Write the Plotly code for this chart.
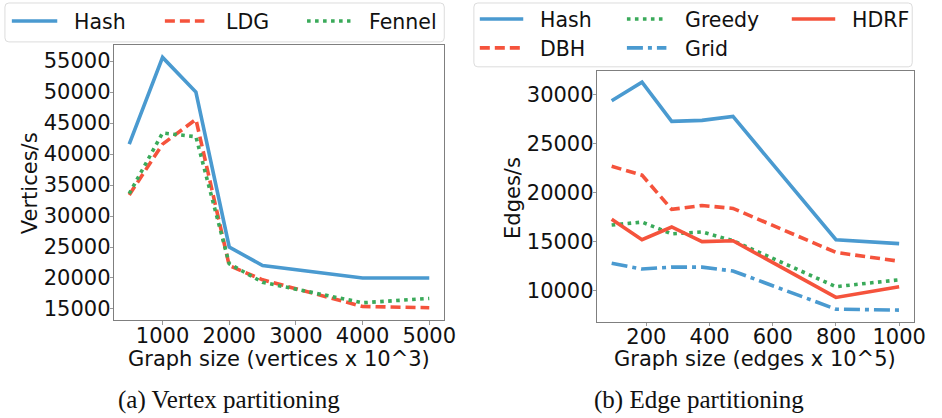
import plotly.graph_objects as go

# ---- data -------------------------------------------------------------
vertex_sizes = [500, 1000, 1500, 2000, 2500, 4000, 5000]
hash_v = [41600, 55600, 50000, 25000, 22000, 20000, 20000]
ldg_v = [33400, 41600, 45600, 22000, 19700, 15400, 15200]
fennel_v = [33600, 43400, 42800, 22300, 19300, 16000, 16700]

edge_sizes = [90, 186, 280, 376, 474, 800, 1000]
hash_e = [29400, 31300, 27300, 27400, 27800, 15200, 14800]
dbh_e = [22700, 21800, 18300, 18700, 18400, 13900, 13000]
greedy_e = [16700, 17000, 15800, 16000, 15100, 10400, 11100]
grid_e = [12800, 12200, 12400, 12400, 12000, 8100, 8000]
hdrf_e = [17300, 15200, 16500, 15000, 15100, 9300, 10400]

vertex_ticks = [1000, 2000, 3000, 4000, 5000]
vertex_yticks = [15000, 20000, 25000, 30000, 35000, 40000, 45000, 50000, 55000]
edge_ticks = [200, 400, 600, 800, 1000]
edge_yticks = [10000, 15000, 20000, 25000, 30000]

# ---- styling ----------------------------------------------------------
W, H = 942, 418
BLUE = "#4a9ad0"
RED = "#f5533c"
GREEN = "#3aaa5a"
LW = 3.6
DASH = "10px,5px"
DOT = "3.6px,4.4px"
DASHDOT = "16px,5px,4px,5px"
FONT = "DejaVu Sans"
TICK_SIZE = 21


def px(x):
    return x / W


def py(y):
    return 1 - y / H


def padded(values_list):
    lo = min(min(v) for v in values_list)
    hi = max(max(v) for v in values_list)
    pad = (hi - lo) * 0.05
    return [lo - pad, hi + pad]


fig = go.Figure()

left_series = [
    ("Hash", hash_v, BLUE, "solid"),
    ("LDG", ldg_v, RED, DASH),
    ("Fennel", fennel_v, GREEN, DOT),
]
right_series = [
    ("Hash", hash_e, BLUE, "solid"),
    ("DBH", dbh_e, RED, DASH),
    ("Greedy", greedy_e, GREEN, DOT),
    ("Grid", grid_e, BLUE, DASHDOT),
    ("HDRF", hdrf_e, RED, "solid"),
]

for name, vals, color, dash in left_series:
    fig.add_trace(go.Scatter(
        x=vertex_sizes, y=vals, name=name, mode="lines",
        line=dict(color=color, width=LW, dash=dash),
        xaxis="x", yaxis="y", showlegend=False,
    ))

for name, vals, color, dash in right_series:
    fig.add_trace(go.Scatter(
        x=edge_sizes, y=vals, name=name, mode="lines",
        line=dict(color=color, width=LW, dash=dash),
        xaxis="x2", yaxis="y2", showlegend=False,
    ))

axis_common = dict(
    showline=True, mirror=True, linecolor="#7f7f7f", linewidth=1,
    ticks="outside", ticklen=3.5, tickwidth=1, tickcolor="#9a9a9a",
    showgrid=False, zeroline=False, tickformat="d",
    tickfont=dict(family=FONT, size=TICK_SIZE, color="#111111"),
)

fig.update_layout(
    width=W, height=H,
    margin=dict(l=0, r=0, t=0, b=0),
    paper_bgcolor="white", plot_bgcolor="white",
    xaxis=dict(domain=[px(115.7), px(450)], anchor="y",
               range=[vertex_sizes[0] - (vertex_sizes[-1] - vertex_sizes[0]) * 0.05,
                      vertex_sizes[-1] + (vertex_sizes[-1] - vertex_sizes[0]) * 0.05],
               tickvals=vertex_ticks, ticklabelstandoff=-7, **axis_common),
    yaxis=dict(domain=[py(321), py(45)], anchor="x",
               range=padded([hash_v, ldg_v, fennel_v]),
               tickvals=vertex_yticks, ticklabelstandoff=-5, **axis_common),
    xaxis2=dict(domain=[px(605), px(925.3)], anchor="y2",
                range=[edge_sizes[0] - (edge_sizes[-1] - edge_sizes[0]) * 0.05,
                       edge_sizes[-1] + (edge_sizes[-1] - edge_sizes[0]) * 0.05],
                tickvals=edge_ticks, ticklabelstandoff=-7, **axis_common),
    yaxis2=dict(domain=[py(322.3), py(71)], anchor="x2",
                range=padded([hash_e, dbh_e, greedy_e, grid_e, hdrf_e]),
                tickvals=edge_yticks, ticklabelstandoff=-5, **axis_common),
    showlegend=False,
)

shapes = []
annotations = []


def rounded_box(x0, y0, x1, y1, r=4):
    rx, ry = r / W, r / H
    X0, X1 = px(x0), px(x1)
    Y0, Y1 = py(y0), py(y1)  # Y0 is the top edge in paper space
    path = (
        f"M {X0 + rx},{Y0} L {X1 - rx},{Y0} Q {X1},{Y0} {X1},{Y0 - ry} "
        f"L {X1},{Y1 + ry} Q {X1},{Y1} {X1 - rx},{Y1} "
        f"L {X0 + rx},{Y1} Q {X0},{Y1} {X0},{Y1 + ry} "
        f"L {X0},{Y0 - ry} Q {X0},{Y0} {X0 + rx},{Y0} Z"
    )
    return dict(type="path", path=path, xref="paper", yref="paper",
                line=dict(color="#dcdcdc", width=1), fillcolor="white", layer="above")


def legend_entry(x0, x1, xt, y, label, color, dash):
    shapes.append(dict(type="line", xref="paper", yref="paper",
                       x0=px(x0), x1=px(x1), y0=py(y), y1=py(y),
                       line=dict(color=color, width=LW, dash=dash), layer="above"))
    annotations.append(dict(x=px(xt), y=py(y + 1), xref="paper", yref="paper",
                            text=label, showarrow=False, xanchor="left", yanchor="middle",
                            font=dict(family=FONT, size=20.5, color="#111111")))


# legend for vertex partitioning
shapes.append(rounded_box(5, 3, 450, 42))
left_layout = [(12, 58, 73), (167, 207, 227), (311, 355, 372)]
for (x0, x1, xt), (name, _, color, dash) in zip(left_layout, left_series):
    legend_entry(x0, x1, xt, 21, name, color, dash)

# legend for edge partitioning (3 columns, filled column-wise)
shapes.append(rounded_box(480, 3, 924, 67))
cols = [(486, 530, 545), (635, 675, 692), (802, 846, 861)]
rows = [19, 48]
for i, (name, _, color, dash) in enumerate(right_series):
    c, r = divmod(i, 2)
    x0, x1, xt = cols[c]
    legend_entry(x0, x1, xt, rows[r], name, color, dash)

# axis titles
annotations += [
    dict(x=px(30), y=py(184), text="Vertices/s", textangle=-90),
    dict(x=px(519), y=py(198), text="Edges/s", textangle=-90),
    dict(x=px(283), y=py(360), text="Graph size (vertices x 10^3)"),
    dict(x=px(765), y=py(360), text="Graph size (edges x 10^5)"),
]
for a in annotations[-4:]:
    a.update(xref="paper", yref="paper", showarrow=False,
             xanchor="center", yanchor="middle",
             font=dict(family=FONT, size=21, color="#111111"))

# sub-figure captions
for x, text in [(232, "(a) Vertex partitioning"), (708, "(b) Edge partitioning")]:
    annotations.append(dict(x=px(x), y=py(401), xref="paper", yref="paper",
                            text=text, showarrow=False, xanchor="center", yanchor="middle",
                            font=dict(family="Liberation Serif", size=25, color="#111111")))

fig.update_layout(shapes=shapes, annotations=annotations)

fig.write_html("out.html")
